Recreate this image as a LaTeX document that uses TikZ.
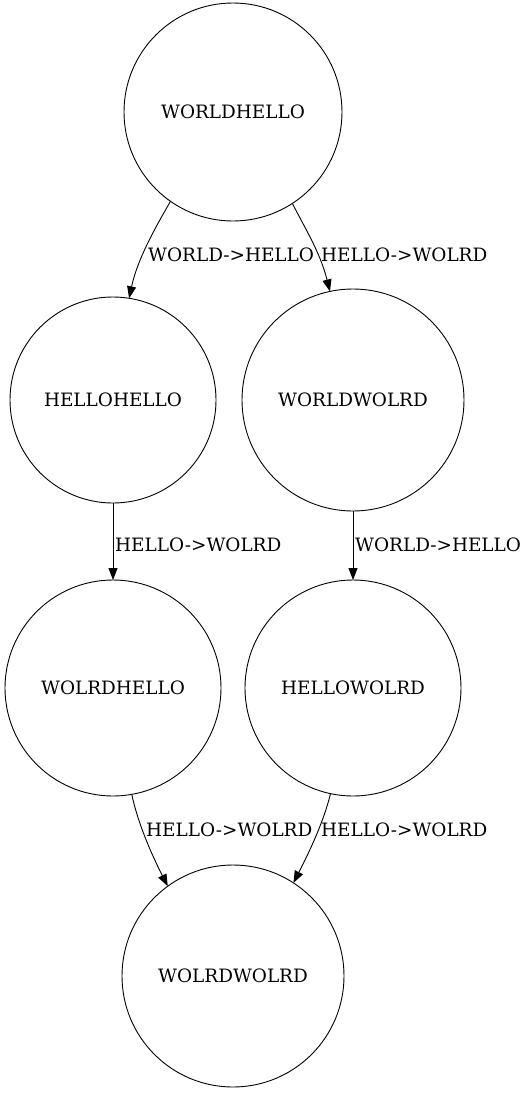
\documentclass[tikz,border=0pt]{standalone}
\usepackage{fontspec}
\setmainfont{DejaVu Serif}
\usetikzlibrary{arrows.meta}
\begin{document}
\begin{tikzpicture}[x=1pt,y=1pt,
  state/.style={circle,draw,line width=0.9pt,inner sep=0pt,outer sep=0pt,font=\fontsize{18.4}{21}\selectfont},
  edge/.style={line width=0.9pt,-{Triangle[length=12pt,width=9pt]}},
  elabel/.style={anchor=west,inner sep=0pt,font=\fontsize{18.4}{21}\selectfont}]
\useasboundingbox (0,0) rectangle (526,-1095);
\node[state,minimum size=218pt] (wh) at (233,-112) {WORLDHELLO};
\node[state,minimum size=206pt] (hh) at (113,-400) {HELLOHELLO};
\node[state,minimum size=222pt] (ww) at (353,-400) {WORLDWOLRD};
\node[state,minimum size=216pt] (oh) at (113,-688) {WOLRDHELLO};
\node[state,minimum size=216pt] (ho) at (353,-688) {HELLOWOLRD};
\node[state,minimum size=222pt] (oo) at (233,-976) {WOLRDWOLRD};
\draw[edge] (wh.235) .. controls +(240:30) and +(78:40) .. (hh.81);
\draw[edge] (wh.303) .. controls +(297:30) and +(104:40) .. (ww.102);
\draw[edge] (hh.south) -- (oh.north);
\draw[edge] (ww.south) -- (ho.north);
\draw[edge] (oh.280) .. controls +(282:30) and +(117:35) .. (oo.126);
\draw[edge] (ho.258) .. controls +(256:30) and +(63:35) .. (oo.57);
\node[elabel] (l1) at (148,-255) {WORLD->HELLO};
\node[elabel] (l2) at (321,-255) {HELLO->WOLRD};
\node[elabel] (l3) at (115,-545) {HELLO->WOLRD};
\node[elabel] (l4) at (355,-545) {WORLD->HELLO};
\node[elabel] (l5) at (146,-830) {HELLO->WOLRD};
\node[elabel] (l6) at (321,-830) {HELLO->WOLRD};
\end{tikzpicture}
\end{document}
